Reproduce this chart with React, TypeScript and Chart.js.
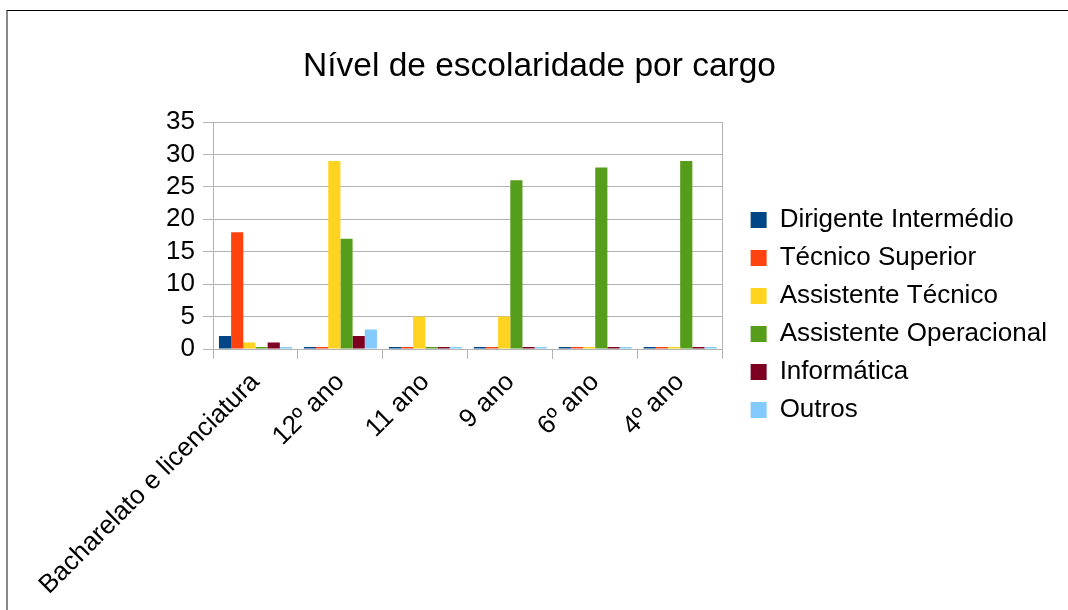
import React, { useEffect, useRef } from "react";
import { Chart, registerables } from "chart.js";

Chart.register(...registerables);

const categories = [
  "Bacharelato e licenciatura",
  "12º ano",
  "11 ano",
  "9 ano",
  "6º ano",
  "4º ano",
];

const seriesNames = [
  "Dirigente Intermédio",
  "Técnico Superior",
  "Assistente Técnico",
  "Assistente Operacional",
  "Informática",
  "Outros",
];

const dirigenteIntermedio = [2, 0, 0, 0, 0, 0];
const tecnicoSuperior = [18, 0, 0, 0, 0, 0];
const assistenteTecnico = [1, 29, 5, 5, 0, 0];
const assistenteOperacional = [0, 17, 0, 26, 28, 29];
const informatica = [1, 2, 0, 0, 0, 0];
const outros = [0, 3, 0, 0, 0, 0];

const seriesValues = [
  dirigenteIntermedio,
  tecnicoSuperior,
  assistenteTecnico,
  assistenteOperacional,
  informatica,
  outros,
];

const seriesColors = ["#004586", "#ff420e", "#ffd320", "#579d1c", "#7e0021", "#83caff"];

const yTicks = { min: 0, max: 35, step: 5 };

const title = "Nível de escolaridade por cargo";

export default function App() {
  const canvasRef = useRef<HTMLCanvasElement | null>(null);

  useEffect(() => {
    if (!canvasRef.current) return;
    Chart.defaults.font.family = "'Liberation Sans', Arial, sans-serif";
    Chart.defaults.color = "#000";
    const chart = new Chart(canvasRef.current, {
      type: "bar",
      data: {
        labels: categories,
        datasets: seriesNames.map((name, i) => ({
          label: name,
          data: seriesValues[i],
          backgroundColor: seriesColors[i],
          borderWidth: 0,
          categoryPercentage: 0.86,
          barPercentage: 1.0,
          minBarLength: 2,
          yAxisID: "y",
        })),
      },
      options: {
        responsive: false,
        animation: false,
        layout: { padding: { left: 22, right: 11, top: 0, bottom: 0 } },
        plugins: {
          tooltip: { enabled: false },
          title: {
            display: true,
            text: title,
            color: "#000",
            font: { size: 33.5, weight: "normal", lineHeight: 1.2 },
            padding: { top: 47, bottom: 34.8 },
          },
          legend: {
            position: "right",
            align: "start",
            maxWidth: 420,
            title: {
              display: true,
              text: " ",
              font: { size: 1, lineHeight: 1 },
              padding: { top: 194, bottom: 0 },
            },
            labels: {
              boxWidth: 16,
              boxHeight: 16,
              padding: 12,
              color: "#000",
              font: { size: 26 },
            },
          },
        },
        scales: {
          x: {
            grid: {
              display: true,
              drawOnChartArea: false,
              drawTicks: true,
              tickLength: 10,
              color: "#b3b3b3",
              offset: true,
            },
            border: { display: true, color: "#b3b3b3" },
            ticks: {
              minRotation: 45,
              maxRotation: 45,
              autoSkip: false,
              padding: 8,
              color: "#000",
              font: { size: 26 },
            },
            afterFit: (s: any) => {
              s.height = 261;
            },
          },
          y: {
            min: yTicks.min,
            max: yTicks.max,
            ticks: {
              stepSize: yTicks.step,
              autoSkip: false,
              padding: 8,
              color: "#000",
              font: { size: 26 },
            },
            grid: { color: "#b3b3b3", tickLength: 10 },
            border: { display: true, color: "#b3b3b3" },
            afterFit: (s: any) => {
              s.width = 191;
            },
          },
          y2: {
            position: "right",
            min: yTicks.min,
            max: yTicks.max,
            display: true,
            ticks: { display: false },
            grid: { display: false },
            border: { display: true, color: "#b3b3b3" },
            afterFit: (s: any) => {
              s.width = 16;
            },
          },
        },
      },
    });
    return () => chart.destroy();
  }, []);

  return (
    <div
      style={{
        position: "fixed",
        left: 0,
        top: 0,
        width: 1068,
        height: 610,
        background: "#fff",
        overflow: "hidden",
      }}
    >
      <div
        style={{
          position: "absolute",
          left: 6,
          top: 10,
          width: 1200,
          height: 800,
          borderTop: "1px solid #000",
          borderLeft: "2px solid #8a8a8a",
        }}
      />
      <canvas
        ref={canvasRef}
        width={1068}
        height={610}
        style={{ position: "absolute", left: 0, top: 0, width: 1068, height: 610 }}
      />
    </div>
  );
}
